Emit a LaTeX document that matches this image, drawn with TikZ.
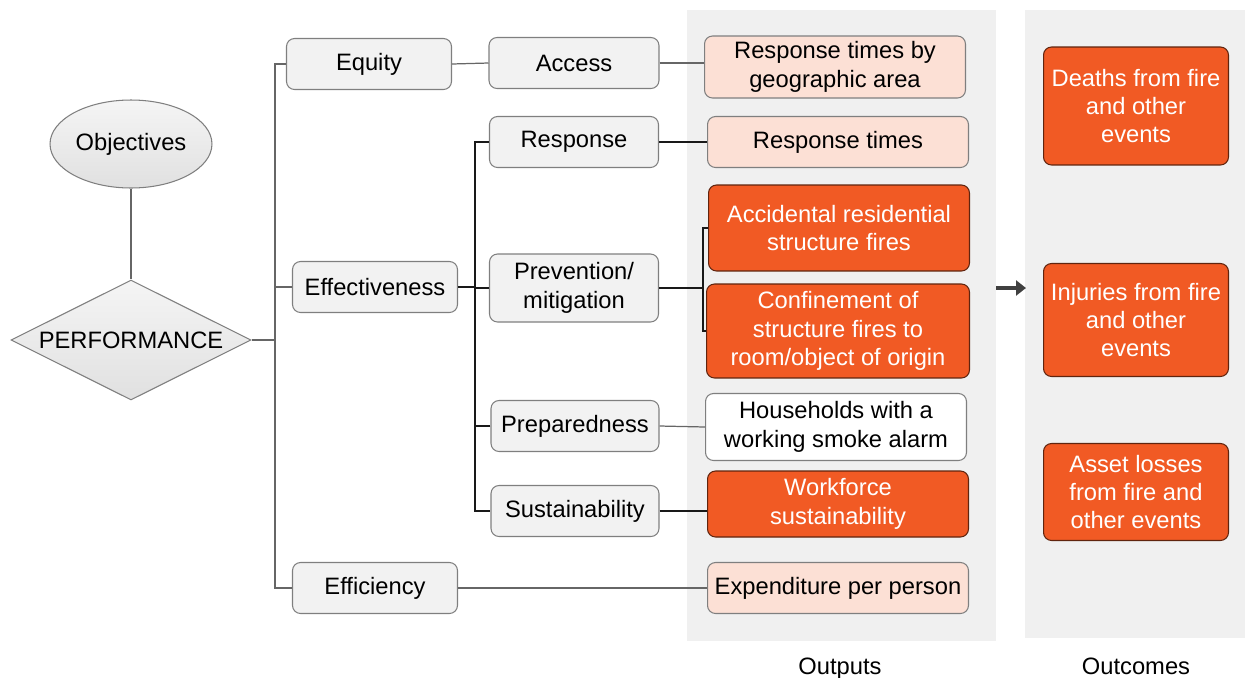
\documentclass[tikz,border=0pt]{standalone}
\usepackage{fontspec}
\setmainfont{Liberation Sans}
\usetikzlibrary{arrows.meta,shapes.geometric}
\definecolor{boxgray}{HTML}{F2F2F2}
\definecolor{panelgray}{HTML}{F0F0F0}
\definecolor{fireorange}{HTML}{F15A24}
\definecolor{paleorange}{HTML}{FCE0D5}
\definecolor{edgegray}{HTML}{7F7F7F}
\definecolor{arrowgray}{HTML}{404040}

\begin{document}
\begin{tikzpicture}[x=0.02cm,y=-0.02cm,
	font=\fontsize{13.5}{16.2}\selectfont,
	measure/.style={draw=edgegray,line width=0.6pt,rounded corners=0.16cm,align=center,inner sep=0pt},
	grey/.style={measure,fill=boxgray,minimum height=1.02cm},
	pale/.style={measure,fill=paleorange,minimum width=5.22cm},
	hot/.style={measure,draw=black!60!fireorange,fill=fireorange,text=white,minimum width=5.22cm},
	outcome/.style={hot,minimum width=3.7cm},
	conn/.style={draw=black!60,line width=0.7pt},
	link/.style={draw=black!90,line width=0.6pt}]
	\useasboundingbox (0,0) rectangle (1245,677);
	\fill[panelgray] (687,10) rectangle (996,641);
	\fill[panelgray] (1025,10) rectangle (1245,638);
	\coordinate (trunk) at (275,0);
	\coordinate (branch) at (475,0);
	\coordinate (bracket) at (703,0);
	\coordinate (arrowtail) at (996,288);
	\coordinate (arrowhead) at (1026,288);
	% left side
	\node[ellipse,draw=edgegray,line width=0.6pt,top color=white!96!black,bottom color=black!12,inner sep=0pt,minimum width=3.24cm,minimum height=1.76cm] (objectives) at (131,144) {Objectives};
	\node[diamond,draw=edgegray,line width=0.6pt,top color=white!96!black,bottom color=black!12,inner sep=0pt,minimum width=4.8cm,minimum height=2.4cm,label=center:PERFORMANCE] (perf) at (131,340) {};
	\node[grey,minimum width=3.3cm] (equity) at (369,64) {Equity};
	\node[grey,minimum width=3.3cm] (effect) at (375,287) {Effectiveness};
	\node[grey,minimum width=3.3cm] (efficiency) at (375,588) {Efficiency};
	\node[grey,minimum width=3.4cm] (access) at (574,63) {Access};
	\node[grey,minimum width=3.38cm] (response) at (574,142) {Response};
	\node[grey,minimum width=3.38cm,minimum height=1.36cm] (prevent) at (574,288) {Prevention/\\mitigation};
	\node[grey,minimum width=3.36cm] (prepared) at (575,426) {Preparedness};
	\node[grey,minimum width=3.36cm] (sustain) at (575,511) {Sustainability};
	% outputs
	\node[pale,minimum height=1.24cm] (geo) at (835,67) {Response times by\\geographic area};
	\node[pale,minimum height=1.02cm] (resptimes) at (838,142) {Response times};
	\node[hot,minimum height=1.72cm] (accid) at (839,228) {Accidental residential\\structure fires};
	\node[hot,minimum width=5.26cm,minimum height=1.88cm] (confine) at (838,331) {Confinement of\\structure fires to\\room/object of origin};
	\node[measure,fill=white,minimum width=5.22cm,minimum height=1.34cm] (households) at (836,427) {Households with a\\working smoke alarm};
	\node[hot,minimum height=1.32cm] (workforce) at (838,504) {Workforce\\sustainability};
	\node[pale,minimum height=1.02cm] (expend) at (838,588) {Expenditure per person};
	% outcomes
	\node[outcome,minimum height=2.36cm] (deaths) at (1136,106) {Deaths from fire\\and other\\events};
	\node[outcome,minimum height=2.26cm] (injuries) at (1136,320) {Injuries from fire\\and other\\events};
	\node[outcome,minimum height=1.94cm] (assets) at (1136,492) {Asset losses\\from fire and\\other events};
	\node[anchor=base] (outlabel) at (840,674) {Outputs};
	\node[anchor=base] (outclabel) at (1136,674) {Outcomes};
	% connectors
	\draw[conn] (objectives) -- (perf);
	\draw[conn] (perf.east) -- (perf.east -| trunk);
	\draw[conn] (equity.west) -- (equity.west -| trunk) -- (efficiency.west -| trunk) -- (efficiency.west);
	\draw[conn] (effect.west) -- (effect.west -| trunk);
	\draw[conn] (equity.east) -- (access.west);
	\draw[link] (effect.east) -- (effect.east -| branch);
	\draw[link] (response.west) -- (response.west -| branch) -- (sustain.west -| branch) -- (sustain.west);
	\foreach \n in {prevent,prepared}
		\draw[link] (\n.west) -- (\n.west -| branch);
	\draw[link] (prevent.east) -- (prevent.east -| bracket);
	\draw[link] (accid.west) -- (accid.west -| bracket) -- (confine.west -| bracket) -- (confine.west);
	\draw[conn] (access.east) -- (access.east -| geo.west);
	\draw[link] (response.east) -- (resptimes.west);
	\draw[conn] (prepared.east) -- (households.west);
	\draw[link] (sustain.east) -- (sustain.east -| workforce.west);
	\draw[conn] (efficiency.east) -- (expend.west);
	\draw[arrowgray,line width=2.2pt,-{Triangle[length=0.2cm,width=0.3cm]}] (arrowtail) -- (arrowhead);
\end{tikzpicture}
\end{document}
